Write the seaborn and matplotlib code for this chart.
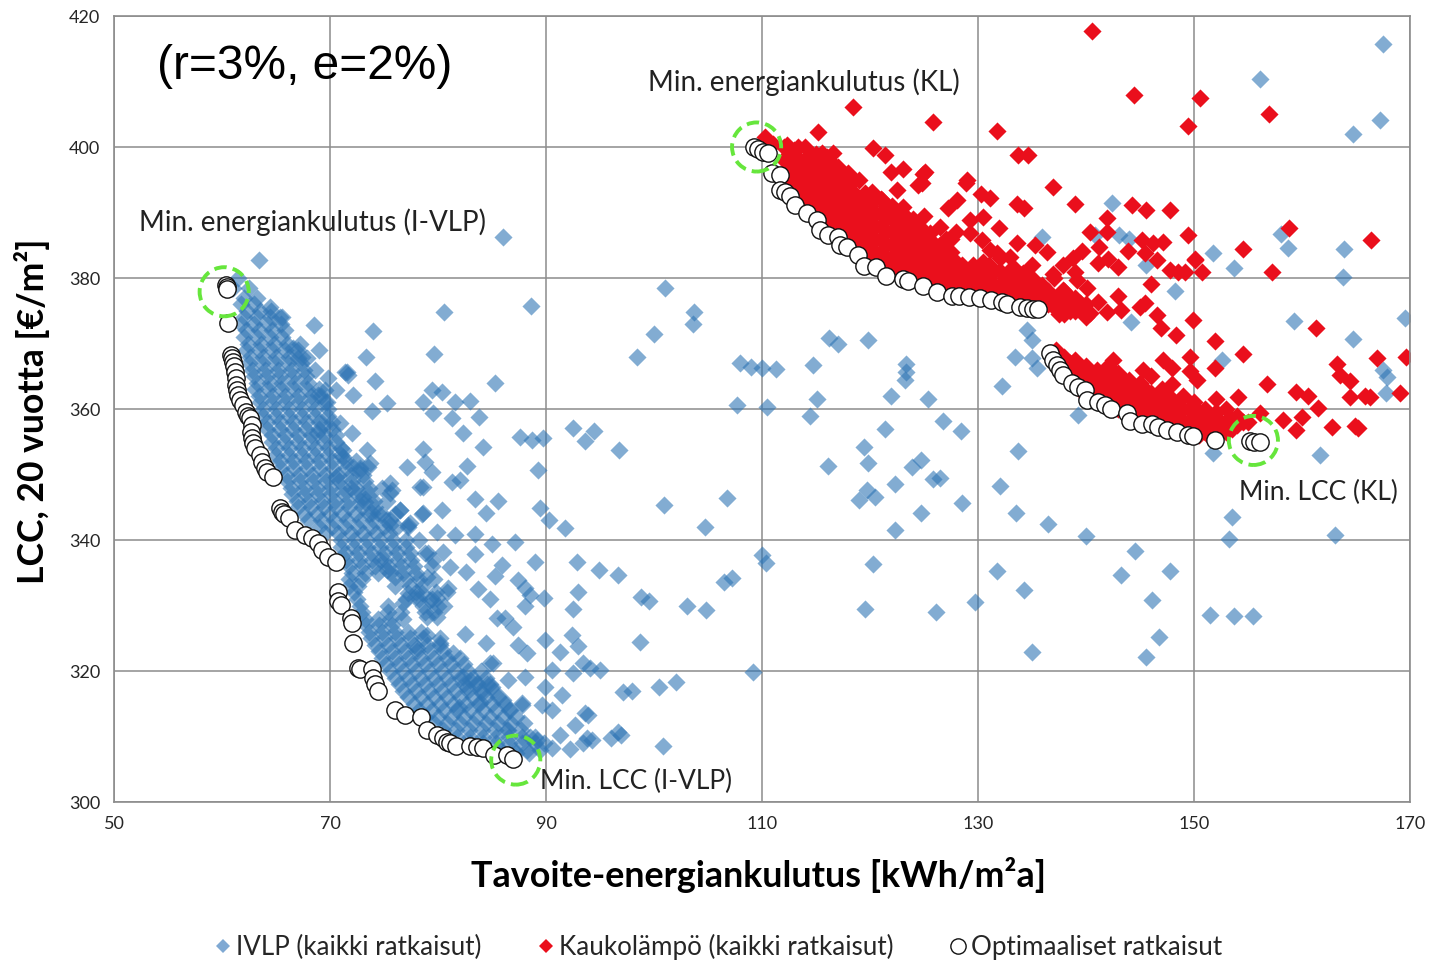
import matplotlib
matplotlib.use("Agg")
import matplotlib.pyplot as plt
from matplotlib.lines import Line2D
import pandas as pd
import seaborn as sns

x_ticks = [50, 70, 90, 110, 130, 150, 170]
y_ticks = [300, 320, 340, 360, 380, 400, 420]

# IVLP, scattered points (x, y)
ivlp_sparse = [
    (63.4, 382.7), (86, 386.3), (88.6, 375.7), (80.6, 374.8), (74, 371.9), (68.5, 372.8), (79.6, 368.4),
    (73.3, 368), (85.3, 364), (74.2, 364.3), (71.6, 365.6), (69, 369), (101, 378.5), (100, 371.4),
    (98.4, 368), (103.7, 374.8), (103.6, 373), (108, 367), (110, 366.3), (111.3, 366.1), (109, 366.4),
    (107.7, 360.6), (110.5, 360.3), (114.7, 366.7), (116.2, 370.8), (117, 370), (119.8, 370.5),
    (123.3, 366.9), (123.3, 365.6), (123.2, 364.4), (121.9, 362), (115.1, 361.5), (114.4, 359),
    (121.4, 357), (125.4, 361.6), (126.8, 358.2), (128.4, 356.6), (119.4, 354.2), (119.8, 351.8),
    (116.1, 351.3), (124.7, 352.2), (123.9, 351.1), (125.8, 349.3), (126.5, 349.4), (119.7, 347.6),
    (119, 346.1), (120.5, 346.6), (122.3, 348.5), (124.7, 344.1), (122.3, 341.5), (128.5, 345.6),
    (132, 348.2), (133.7, 353.6), (133.5, 344.1), (136.5, 342.4), (140, 340.6), (131.8, 335.3),
    (134.3, 332.4), (129.7, 330.5), (126.1, 329), (119.5, 329.5), (120.3, 336.3), (144.5, 338.3),
    (143.2, 334.7), (147.8, 335.3), (146.1, 330.8), (146.8, 325.2), (145.6, 322.1), (135, 322.9),
    (151.5, 328.5), (153.7, 328.4), (155.5, 328.4), (153.2, 340.2), (153.5, 343.5), (163.1, 340.8),
    (161.7, 353), (151.8, 353.3), (139.3, 359.1), (135, 367.8), (133.4, 367.9), (132.2, 363.5),
    (135.5, 366.3), (134.5, 372.1), (135, 370.5), (152.6, 367.5), (159.3, 373.4), (164.7, 370.7),
    (169.5, 373.9), (167.5, 366), (167.9, 364.9), (167.8, 362.4), (163.8, 380.2), (163.9, 384.4),
    (156.1, 410.4), (167.5, 415.7), (167.2, 404.1), (164.7, 402), (158.1, 386.7), (158.7, 384.6),
    (153.7, 381.5), (151.8, 383.8), (142.4, 391.5), (145.6, 382), (148.2, 378), (135.9, 386.3),
    (144.2, 373.3), (140.8, 386.6), (143.1, 386.6), (144, 385.9), (109.2, 319.8), (100.8, 308.5),
    (102, 318.3), (100.5, 317.6), (98, 317), (97.1, 316.8), (96.7, 310.7), (96, 309.8), (96.9, 310.2),
    (103.1, 329.9), (104.8, 329.3), (98.7, 324.4), (98.8, 331.3), (99.5, 330.7), (96.7, 334.7),
    (94.9, 335.4), (106.5, 333.6), (107.2, 334.2), (106.8, 346.4), (104.7, 342), (100.9, 345.3),
    (96.8, 353.7), (94.4, 356.7), (92.5, 357.1), (93.6, 355.1), (91.8, 341.8), (90.3, 343.1),
    (89.4, 344.9), (89.3, 350.7), (87.6, 355.7), (89.7, 355.6), (88.7, 355.3), (110, 337.7), (110.4, 336.5),
    (70.9, 357.9), (72, 356.3), (73.4, 353.7), (71.2, 353.7), (72.8, 351), (73.7, 351.8), (77.1, 351.1),
    (75.6, 348.7), (78.3, 348.1), (75.6, 347.2), (79.4, 362.9), (80.4, 362.6), (75.3, 360.9), (73.9, 359.7),
    (78.6, 361.1), (79.5, 359.4), (81.3, 358.6), (81.6, 361.1), (83, 361.2), (83.8, 358.8), (82.3, 356.3),
    (84.2, 354.2), (82.7, 351.3), (78.6, 353.9), (78.8, 351.9), (79.4, 350.4), (81.3, 348.9), (82, 349.2),
    (83.4, 346.3), (84.4, 344.1), (80.4, 344.6), (78.5, 344), (76.5, 344.6), (77.4, 342.6), (85.6, 346),
    (78.6, 344.1), (81.6, 340.8), (83.4, 340.9), (85, 339.4), (87.1, 339.7), (89, 336.6), (92.9, 336.6),
    (83.4, 337.9), (81.1, 335.9), (82.6, 335.1), (85.9, 336.2), (85.3, 334.5), (87.4, 333.9), (88.1, 332.7),
    (88.5, 331.6), (89.8, 331.1), (88.1, 329.9), (92.5, 329.5), (93, 332.1), (83.7, 332.5), (84.8, 331),
    (80.9, 332.7), (80.6, 329.9), (85.5, 328.1), (86.2, 328.1), (86.9, 326.7), (82.5, 325.6), (87.4, 324),
    (88.2, 322.7), (89.9, 324.7), (91.3, 322.9), (84.4, 324.3), (81.4, 322.7), (84.8, 321.2), (79, 325.5),
    (92.4, 325.5), (93, 323.8), (93.4, 321.2), (90.6, 320.2), (92.5, 319.7), (86.5, 318.6), (88.1, 319.1),
    (89.9, 317.6), (91.5, 316.3), (89.6, 314.8), (90.6, 314), (93.6, 313.6), (87.8, 314.8), (92.7, 311.8),
    (91.3, 310.2), (93.4, 309), (92.2, 308.1), (90.6, 308.2), (89.2, 309.5), (93.8, 309.8), (94.3, 309.5),
    (95, 320.2), (94.1, 320.4), (93.9, 313.3),
]

# IVLP, patchy clusters just outside the dense band
ivlp_patchy = [
    (66.6, 369.3), (67, 367.8), (67.9, 367.8), (65.6, 374), (64.4, 375.6), (69.8, 364.7), (71.4, 365.6), (71.7, 365.2),
    (69.5, 362.9), (70.6, 362.9), (68.9, 362.1), (69.7, 361.1), (72.1, 362.1), (69.4, 357.6), (68.8, 356.3), (71.2, 352.7),
    (72.1, 351.1), (72.8, 350.7), (73.5, 351.1), (70.6, 349.6), (71.9, 347.9), (73.1, 346.6), (75.7, 347.6), (76.5, 344.6),
    (74.4, 344.1), (75.6, 343.1), (73.2, 345.8), (73.9, 344.1), (75.6, 342.3), (78.6, 348.1), (77.2, 342.3), (79.9, 341.2),
    (74.6, 336.9), (75.3, 335.4), (76, 334.4), (79, 334.4), (78.5, 331.9), (77.9, 331.3), (79.3, 330.8), (79.9, 331.1),
    (79.5, 336.9), (80.5, 338.2), (79.1, 338), (77.2, 331.9), (76.8, 330.4), (79.9, 328.2), (79, 328.2), (80.2, 324.3),
    (78.1, 323.5), (82.7, 317.6), (83.9, 315.3), (85, 317.6), (86, 315.6), (81.9, 314.5), (85.1, 321.2), (83.6, 318.2),
    (82.3, 319.1), (83, 318.7), (86.7, 314), (87.8, 315.1), (86.4, 311), (88.5, 309.9), (84.1, 316.6), (84.5, 318),
]

# IVLP dense band, by row: y and the x values on it
ivlp_band_y = [380, 378.5, 377, 375, 373, 371, 369, 367, 365, 363, 361, 359, 357, 355, 353, 351, 349, 347, 345,
               343, 341, 339, 337, 335, 333, 331, 329, 327, 325, 323, 321, 319, 317, 315, 313, 311, 309, 307.5]
ivlp_band_x = [
    [61.5], [61, 62.5], [62, 63.2], [62.3, 63.5, 64.5], [61.8, 63, 64.3, 65.5], [62, 63.2, 64.4, 65.6],
    [62.2, 63.4, 64.6, 65.8, 67], [62.5, 63.7, 64.9, 66.1, 67.3], [63, 64.2, 65.4, 66.6, 67.8],
    [63.1, 64.3, 65.5, 66.7, 67.9, 69], [63.5, 64.7, 65.9, 67.1, 68.3, 69.5], [63.8, 65, 66.2, 67.4, 68.6, 69.8],
    [64.2, 65.4, 66.6, 67.8, 69, 70.2], [64.6, 65.8, 67, 68.2, 69.4, 70.6], [65, 66.2, 67.4, 68.6, 69.8, 71],
    [65.5, 66.7, 67.9, 69.1, 70.3, 71.5], [66, 67.2, 68.4, 69.6, 70.8, 72, 73.2],
    [66.5, 67.7, 68.9, 70.1, 71.3, 72.5, 73.7], [67, 68.2, 69.4, 70.6, 71.8, 73, 74.2],
    [68, 69.2, 70.4, 71.6, 72.8, 74, 75.2], [69.5, 70.7, 71.9, 73.1, 74.3, 75.5],
    [71, 72.2, 73.4, 74.6, 75.8, 77], [71.5, 72.7, 73.9, 75.1, 76.3, 77.5], [72, 73.2, 74.4, 75.6, 76.8, 78],
    [71.8, 72.6, 76, 77.4, 78.6], [72.5, 77, 78.2, 79.4], [73, 75.4, 76.6, 78.8, 79.6],
    [73.3, 74.5, 75.7], [73.8, 75, 76.2, 77.4, 78.6, 80.2], [74.5, 75.7, 76.9, 78.1, 79.3, 80.5],
    [75.2, 76.4, 77.6, 78.8, 80, 81.2, 82.4], [76, 77.2, 78.4, 79.6, 80.8, 82, 83.2, 84.4],
    [76.8, 78, 79.2, 80.4, 81.6, 82.8, 84, 85.2], [77.8, 79, 80.2, 81.4, 82.6, 83.8, 85, 86.2],
    [78.8, 80, 81.2, 82.4, 83.6, 84.8, 86, 87.2], [80.5, 81.7, 82.9, 84.1, 85.3, 86.5, 87.7],
    [83, 84.2, 85.4, 86.6, 87.8, 89, 89.8], [86, 87.2, 88.4],
]
ivlp_mid_y = [376, 374, 372, 370, 368, 366, 364, 362, 360, 358, 356, 354, 352, 350, 348, 346, 344, 342, 340,
              338, 336, 334, 332, 330, 328, 326, 324, 322, 320, 318, 316, 314, 312, 310, 308]
ivlp_mid_x = [
    [61.8, 63], [62, 63.2, 64.4, 65.4], [62.2, 63.4, 64.6, 65.8], [62.4, 63.6, 64.8, 66, 67.2],
    [62.6, 63.8, 65, 66.2, 67.4], [62.8, 64, 65.2, 66.4, 67.6, 68.6], [63.2, 64.4, 65.6, 66.8, 68],
    [63.4, 64.6, 65.8, 67, 68.2, 69.2], [63.8, 65, 66.2, 67.4, 68.6, 69.8], [64.2, 65.4, 66.6, 67.8, 69, 70.2],
    [64.6, 65.8, 67, 68.2, 69.4, 70.6], [65, 66.2, 67.4, 68.6, 69.8, 71], [65.4, 66.6, 67.8, 69, 70.2, 71.4, 72.4],
    [65.9, 67.1, 68.3, 69.5, 70.7, 71.9, 73.1], [66.4, 67.6, 68.8, 70, 71.2, 72.4, 73.6, 74.8],
    [66.9, 68.1, 69.3, 70.5, 71.7, 72.9, 74.1, 75.3], [67.6, 68.8, 70, 71.2, 72.4, 73.6, 74.8, 76],
    [69, 70.2, 71.4, 72.6, 73.8, 75, 76.2, 77.2], [71, 72.2, 73.4, 74.6, 75.8, 77, 78.2],
    [71.4, 72.6, 73.8, 75, 76.2, 77.4, 78.8], [71.8, 73, 74.2, 75.4, 76.6, 77.8, 79.4],
    [71.8, 73, 77, 78.2, 79.6], [72.2, 78, 79.8, 80.8], [72.8, 75.4, 78.6, 80],
    [73.2, 74.4, 75.6, 76.8], [73.6, 74.8, 76, 77.2, 78.4], [74.2, 75.4, 76.6, 77.8, 79, 80.2],
    [74.8, 76, 77.2, 78.4, 79.6, 80.8, 82], [75.6, 76.8, 78, 79.2, 80.4, 81.6, 82.8, 84],
    [76.4, 77.6, 78.8, 80, 81.2, 82.4, 83.6, 84.8], [77.2, 78.4, 79.6, 80.8, 82, 83.2, 84.4, 85.6],
    [78.2, 79.4, 80.6, 81.8, 83, 84.2, 85.4, 86.6], [79.6, 80.8, 82, 83.2, 84.4, 85.6, 86.8, 88],
    [81.8, 83, 84.2, 85.4, 86.6, 87.8, 89], [84.6, 85.8, 87, 88.2, 89.4],
]

# Kaukolampo, scattered points (x, y)
kl_sparse = [
    (140.6, 417.7), (144.4, 407.9), (150.6, 407.5), (149.4, 403.2), (156.9, 405), (118.4, 406.1), (125.8, 403.8),
    (131.8, 402.4), (115.2, 402.3), (133.7, 398.8), (134.6, 398.8), (136.9, 393.9), (128.9, 394.5), (120.3, 399.8),
    (121.4, 398.8), (119, 395), (125.1, 396.2), (124.8, 394.5), (130.3, 392.8), (131.1, 392.2), (133.6, 391.3),
    (134.3, 390.7), (139, 391.3), (144.3, 391.1), (145.6, 390.4), (147.8, 390.4), (141.9, 389.2), (140.4, 387),
    (141.9, 387), (149.4, 386.6), (158.8, 387.6), (166.4, 385.8), (154.5, 384.4), (150.1, 382.7), (157.2, 380.9),
    (121.9, 396.2), (123.1, 396.6), (124.9, 395.9), (124.4, 394.2), (129, 395), (120.2, 393.1), (122.5, 393.4),
    (128.1, 391.9), (127.2, 390.7), (129.3, 388.9), (130.5, 389.3), (131.9, 387.6), (126.5, 387.8), (130.4, 385.8),
    (131.1, 384.3), (133.6, 385.3), (135.1, 379.7), (135.9, 378.9), (137.9, 377.9), (141.1, 382.3), (142, 382.9),
    (141.2, 384.7), (143, 381.7), (139.6, 384.1), (138.8, 383.1), (137.9, 382), (136.4, 384), (135.3, 385),
    (136.9, 380.6), (139, 380.9), (143.9, 384.1), (145.2, 385.8), (147.1, 385.5), (146.2, 385.3), (145.5, 383.8),
    (146.6, 382.7), (147.8, 381.2), (148.5, 380.9), (149.2, 380.9), (150.1, 382.9), (150.7, 380.9), (146, 379.1),
    (143, 377.3), (145.5, 376.2), (145, 375.6), (143.2, 375.1), (141.9, 374.8), (141.1, 376.3), (140.4, 374.7),
    (139.4, 376.2), (140.1, 378.5), (139.2, 379.7), (137.9, 378.2), (137.3, 376.6), (146.6, 374.4), (146.9, 372.4),
    (149.9, 373.6), (148.3, 371.3), (151.9, 370.4), (154.5, 368.4), (161.3, 372.4), (169.6, 367.9), (166.9, 367.8),
    (163.2, 366.9), (163.5, 365.2), (164.4, 364.3), (169.1, 362.4), (166.3, 361.8), (165.8, 362), (164.4, 361.8),
    (156.8, 363.8), (159.4, 362.6), (160.6, 362), (161.5, 360.2), (160, 358.8), (162.8, 357.3), (164.9, 357.4),
    (165.2, 357.1), (158.2, 358.3), (159.4, 356.8), (156.1, 359.4), (154.1, 361.8), (147.1, 367.5), (148, 366.3),
    (149.6, 367.9), (149.6, 365.8), (151.9, 366.3), (150.3, 364.4), (148, 363.8), (142.5, 367.5), (145.3, 366),
    (112.3, 400.3), (113.3, 400), (115.6, 399.1), (116.6, 399.1), (117.2, 396.5), (114.4, 398), (121.9, 390.7),
    (123.1, 390.8), (121.1, 391.9), (125.6, 386.9), (129.3, 386.9), (131.8, 383.8), (133.2, 381.7), (134.2, 380.8),
    (133, 383.2),
]

# Kaukolampo dense bands, by column: x and the y values on it
kl_upper_x = [110.3, 111, 112, 113, 114, 115, 116, 117, 118, 119, 120, 121, 122, 123, 124, 125, 126, 127, 128, 129,
              130, 131, 132, 133, 134, 135, 136, 137, 138, 139, 140]
kl_upper_y = [
    [401.5], [400.5], [400, 398, 396], [399.5, 397, 395, 393], [400, 398, 396, 394, 392], [399, 397, 395, 393, 391],
    [398.5, 396.5, 394.5, 392.5, 390.5, 389], [397, 395, 393, 391, 389, 387.5], [396, 394, 392, 390, 388, 386.5],
    [392, 390, 388, 386], [391, 389, 387, 385, 383.5], [392, 390, 388, 386, 384, 382.5],
    [391, 389, 387, 385, 383, 381.5], [390, 388, 386, 384, 382, 380.5], [389, 387, 385, 383, 381],
    [389.5, 387, 385, 383, 381, 379.5], [385, 383, 381, 379.5], [386, 384, 382, 380, 378.5],
    [387, 382.5, 380.5, 378.5], [381, 379], [381.5, 379.5, 378], [382, 380, 378],
    [383, 381, 379, 377.5], [381, 379, 377], [380.5, 378.5, 376.5], [382, 380, 378, 376], [378, 376],
    [380, 377, 375.5], [378, 376, 374.5], [377, 375], [376, 374],
]
kl_upper_mid_x = [112.5, 113.5, 114.5, 115.5, 116.5, 117.5, 118.5, 119.5, 120.5, 121.5, 122.5, 123.5, 124.5, 125.5,
                  126.5, 127.5, 128.5, 129.5, 130.5, 131.5, 132.5, 133.5, 134.5, 135.5, 136.5, 137.5, 138.5, 139.5]
kl_upper_mid_y = [
    [399, 397, 395], [398, 396, 394, 392], [399, 397, 395, 393, 391], [398, 396, 394, 392, 390],
    [397.5, 395.5, 393.5, 391.5, 389.5, 388], [396, 394, 392, 390, 388, 386.5], [395, 393, 391, 389, 387, 385.5],
    [393, 391, 389, 387, 385, 384], [392, 390, 388, 386, 384, 382.8], [391, 389, 387, 385, 383, 381.8],
    [390, 388, 386, 384, 382, 380.8], [389, 387, 385, 383, 381, 380], [388, 386, 384, 382, 380],
    [386, 384, 382, 380, 379], [385, 383, 381, 379], [386, 384, 382, 380, 378], [382, 380, 378.5],
    [382, 380, 378], [382.5, 380.5, 378.5, 377.5], [381, 379, 377.5], [380, 378, 377], [380, 378, 376.5],
    [379, 377, 376], [379, 377, 375.5], [378, 376], [376.5, 374.5], [377, 375], [375.5],
]
kl_lower_x = [137.2, 138, 139, 140, 141, 142, 143, 144, 145, 146, 147, 148, 149, 150, 151, 152, 153, 154, 155]
kl_lower_y = [
    [369], [368, 366.5], [367.5, 365.5, 364], [366.5, 364.5, 362.8], [366, 364, 362], [366.5, 364.5, 362.5, 361],
    [365.5, 363.5, 361.5, 360], [364.5, 362.5, 360.5], [364, 362, 360, 358.5], [365, 362.5, 360.5, 358.8],
    [363, 361, 359, 357.8], [361.5, 359.5, 358], [362, 360, 358, 356.8], [361, 359, 357], [360, 358, 356.5],
    [361.5, 359.5, 357.5, 356], [360, 358, 356.5], [359, 357.5], [358],
]
kl_lower_mid_x = [137.5, 138.5, 139.5, 140.5, 141.5, 142.5, 143.5, 144.5, 145.5, 146.5, 147.5, 148.5, 149.5, 150.5,
                  151.5, 152.5, 153.5, 154.5]
kl_lower_mid_y = [
    [367.5], [367, 365], [366, 364, 362.8], [365.5, 363.5, 361.8], [365, 363, 361.2], [365, 363, 361, 360],
    [364.5, 362.5, 360.5, 359.5], [363, 361, 359], [363, 361, 359, 358], [362, 360, 358], [362, 360, 358, 357],
    [361, 359, 357], [360, 358, 356.5], [359.5, 357.5, 356], [359, 357, 355.8], [358, 356.5], [358.5, 357], [358],
]

# Optimal solutions
optimal = [
    (60.4, 378.9), (60.5, 378.6), (60.5, 378.3), (60.6, 373.1), (60.8, 368.2), (60.9, 367.8), (61, 367.2), (61.1, 366.6),
    (61.2, 365.6), (61.3, 364.7), (61.3, 363.7), (61.4, 362.9), (61.5, 362.1), (61.7, 361.4), (61.9, 360.6), (62.2, 359.5),
    (62.4, 358.9), (62.6, 358.6), (62.8, 357.6), (62.7, 356.5), (62.8, 355.6), (62.9, 354.8), (63.1, 354), (63.5, 353),
    (63.7, 351.9), (64, 351), (64.2, 350.4), (64.7, 349.6), (65.4, 344.9), (65.6, 344.3), (65.7, 344), (66.2, 343.4),
    (66.8, 341.5), (67.7, 340.8), (68.3, 340.3), (68.9, 339.5), (69.3, 338.5), (69.8, 337.4), (70.6, 336.6), (70.7, 332.1),
    (70.7, 330.7), (71, 330.1), (71.9, 328.1), (72, 327.3), (72.1, 324.3), (72.6, 320.5), (72.8, 320.3), (73.9, 320.3),
    (74, 318.9), (74.2, 318), (74.4, 316.9), (76, 314), (76.9, 313.3), (78.4, 313), (79, 311), (79.9, 310.2), (80.5, 309.8),
    (80.8, 309.2), (81.1, 309), (81.7, 308.5), (83, 308.5), (83.6, 308.4), (84.2, 308.2), (85.2, 307.2), (86.4, 307.2),
    (86.9, 306.6),
    (109.3, 400), (109.6, 399.7), (110.1, 399.2), (110.6, 399.1), (110.9, 396), (111.7, 395.7), (111.7, 393.4), (112.1, 393.1),
    (112.6, 392.5), (113.1, 391.1), (114.2, 389.9), (115.1, 388.9), (115.4, 387.3), (116.1, 386.6), (117, 386.3), (117.2, 385),
    (117.9, 384.7), (118.9, 383.5), (119.4, 381.8), (120.6, 381.7), (121.5, 380.3), (123.1, 379.8), (123.5, 379.5), (124.9, 378.8),
    (126.2, 377.9), (127.6, 377.3), (128.2, 377.3), (129.2, 377.1), (130.2, 376.9), (131.2, 376.6), (132.2, 376.3), (132.7, 376),
    (133.9, 375.6), (134.5, 375.4), (135.1, 375.3), (135.6, 375.3),
    (136.7, 368.5), (136.9, 367.5), (137.3, 366.7), (137.6, 366), (137.9, 365.2), (138.7, 364), (139.3, 363.4), (139.9, 362.9),
    (140.1, 361.4), (141.1, 361.1), (141.8, 360.6), (142.3, 360), (143.8, 359.4), (144.1, 358.2), (145.2, 357.7), (146.1, 357.7),
    (146.7, 357.3), (147.5, 356.8), (148.4, 356.5), (149.4, 356), (149.9, 355.9), (151.9, 355.3), (155.2, 355.1), (155.6, 355),
    (156.1, 355),
]

# Green dashed rings around the four extremes
ring_x = [60.2, 109.5, 155.5, 87.2]
ring_y = [377.9, 400, 355.2, 306.4]

notes = ["Min. energiankulutus (KL)", "Min. energiankulutus (I-VLP)", "Min. LCC (I-VLP)", "Min. LCC (KL)"]
note_x = [99.4, 52.3, 89.4, 154.2]
note_y = [409.9, 388.5, 303.2, 347.2]
note_size = [20, 20, 19, 19]

ivlp_pts = (ivlp_sparse + ivlp_patchy
            + [(x, y) for y, xs in zip(ivlp_band_y, ivlp_band_x) for x in xs]
            + [(x, y) for y, xs in zip(ivlp_mid_y, ivlp_mid_x) for x in xs])
kl_pts = (kl_sparse
          + [(x, y) for x, ys in zip(kl_upper_x, kl_upper_y) for y in ys]
          + [(x, y) for x, ys in zip(kl_upper_mid_x, kl_upper_mid_y) for y in ys]
          + [(x, y) for x, ys in zip(kl_lower_x, kl_lower_y) for y in ys]
          + [(x, y) for x, ys in zip(kl_lower_mid_x, kl_lower_mid_y) for y in ys])

ivlp_df = pd.DataFrame(ivlp_pts, columns=["x", "y"])
kl_df = pd.DataFrame(kl_pts, columns=["x", "y"])
opt_df = pd.DataFrame(optimal, columns=["x", "y"])

sns.set_theme(style="whitegrid")
plt.rcParams["font.family"] = ["Lato", "DejaVu Sans"]

fig = plt.figure(figsize=(14.29, 9.63), dpi=100)
ax = fig.add_axes([114 / 1429, 1 - 802 / 963, 1296 / 1429, 786 / 963])

sns.scatterplot(data=ivlp_df, x="x", y="y", marker="D", s=85, color="#2f75b5", alpha=0.6, linewidth=0, ax=ax)
sns.scatterplot(data=kl_df, x="x", y="y", marker="D", s=85, color="#ea0f1c", linewidth=0, ax=ax)
sns.scatterplot(data=opt_df, x="x", y="y", marker="o", s=155, color="white", edgecolor="#111111", linewidth=1, ax=ax)
ax.scatter(ring_x, ring_y, marker="o", s=1250, facecolors="none", edgecolors="#66e63c", linewidths=2.8,
           linestyle=(0, (3.2, 1.6)), zorder=5)

ax.set_xlim(50, 170)
ax.set_ylim(300, 420)
ax.set_xticks(x_ticks)
ax.set_yticks(y_ticks)
ax.grid(True, color="#8c8c8c", linewidth=1.1)
ax.set_axisbelow(True)
for side in ax.spines.values():
    side.set_color("#8c8c8c")
    side.set_linewidth(1.2)
ax.tick_params(axis="both", length=0, labelsize=13, labelcolor="#262626", pad=10)

ax.set_xlabel("Tavoite-energiankulutus [kWh/m²a]", fontsize=25.8, fontweight="bold", color="black")
ax.xaxis.set_label_coords(0.497, -0.070)
ax.set_ylabel("LCC, 20 vuotta [€/m²]", fontsize=25.6, fontweight="bold", color="black")
ax.yaxis.set_label_coords(-0.049, 0.497)

for label, nx, ny, size in zip(notes, note_x, note_y, note_size):
    ax.text(nx, ny, label, fontsize=size, color="#222222", va="center", ha="left", zorder=6)
ax.text(54, 412.3, "(r=3%, e=2%)", fontsize=34.5, family="Liberation Sans", color="black", va="center", ha="left", zorder=6)

handles = [
    Line2D([], [], linestyle="none", marker="D", markersize=7.5, color="#7fa9d3", markeredgewidth=0),
    Line2D([], [], linestyle="none", marker="D", markersize=7.5, color="#ea0f1c", markeredgewidth=0),
    Line2D([], [], linestyle="none", marker="o", markersize=11, markerfacecolor="white", markeredgecolor="#111111",
           markeredgewidth=1),
]
fig.legend(handles, ["IVLP (kaikki ratkaisut)", "Kaukolämpö (kaikki ratkaisut)", "Optimaaliset ratkaisut"],
           loc="center", bbox_to_anchor=(716 / 1429, 1 - 947 / 963), ncol=3, frameon=False, fontsize=18.7,
           labelcolor="#262626", handlelength=1, handletextpad=0.0, columnspacing=2.0)

fig.savefig("out.png", dpi=100)
plt.close(fig)
